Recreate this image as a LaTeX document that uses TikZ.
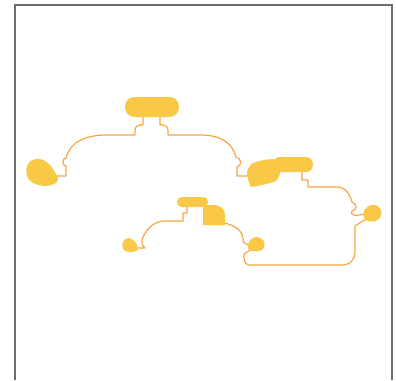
\documentclass[tikz,border=0pt]{standalone}
\definecolor{blobfill}{HTML}{F9C846}
\definecolor{wire}{HTML}{F6A641}
\definecolor{framegray}{HTML}{6E6E6E}
\begin{document}
\begin{tikzpicture}[x=1pt,y=-1pt,
  wireline/.style={draw=wire,line width=1.2pt,line join=round},
  blob/.style={fill=blobfill,draw=none},
  framestyle/.style={draw=framegray,line width=1.1pt}]
\useasboundingbox (0,0) rectangle (396,380);
% frame
\draw[framestyle] (15,380) -- (15,5) -- (392,5) -- (392,380);

% ---------- shape 1 ----------
\draw[wireline] (56,176) -- (66,176) -- (66,166)
  .. controls (62,166) and (62,158) .. (66,158)
  .. controls (70,142) and (85,135) .. (107,135) -- (135,135) -- (135,131)
  .. controls (135,127) and (137,125) .. (140,125) -- (143,125) -- (143,112);
\draw[wireline] (160,112) -- (160,125) -- (163,125)
  .. controls (166,125) and (168,127) .. (168,131) -- (168,135) -- (200,135)
  .. controls (220,135) and (232,142) .. (236,157)
  .. controls (242,158) and (242,166) .. (237,167) -- (237,176) -- (250,176);
\fill[blob] (125,107) .. controls (125,101) and (129,97) .. (135,97) -- (169,97)
  .. controls (175,97) and (179,101) .. (179,107) .. controls (179,113) and (175,117) .. (169,117)
  -- (135,117) .. controls (129,117) and (125,113) .. (125,107) -- cycle;
\fill[blob] (58,178) .. controls (52,165) and (45,158) .. (36,159)
  .. controls (27,160) and (24,170) .. (28,178)
  .. controls (32,186) and (50,189) .. (57,182) -- cycle;

% ---------- shape 2 ----------
\draw[wireline] (302,168) -- (302,180) -- (308,180) -- (308,187) -- (337,187)
  .. controls (346,187) and (350,195) .. (352,202)
  .. controls (358,205) and (357,210) .. (352,211)
  .. controls (350,214) and (353,217) .. (364,214);
\draw[wireline] (366,219) -- (355,226) -- (355,251)
  .. controls (355,260) and (350,265) .. (341,265) -- (250,265)
  .. controls (246,265) and (244,262) .. (244,258) -- (244,254) -- (252,249);
\fill[blob] (273,164) .. controls (273,160) and (276,157) .. (280,157) -- (306,157)
  .. controls (310,157) and (313,160) .. (313,164.5) .. controls (313,169) and (310,172) .. (306,172)
  -- (280,172) .. controls (276,172) and (273,169) .. (273,164) -- cycle;
\fill[blob] (247,172) .. controls (249,165) and (252,163) .. (256,162)
  .. controls (263,160) and (270,158) .. (278,160)
  .. controls (282,166) and (281,176) .. (276,181)
  .. controls (268,184) and (258,186) .. (251,187)
  .. controls (249,183) and (247,177) .. (247,172) -- cycle;
\fill[blob] (365,220) .. controls (361,215) and (364,206) .. (372,205)
  .. controls (379,204) and (383,210) .. (381,216)
  .. controls (379,222) and (370,223) .. (365,220) -- cycle;

% ---------- shape 3 ----------
\draw[wireline] (136,248) -- (145,248)
  .. controls (142,246) and (141,242) .. (143,237)
  .. controls (148,227) and (155,221) .. (165,221) -- (183,221) -- (183,213) -- (187,213) -- (187,205);
\draw[wireline] (224,223) .. controls (234,225) and (242,230) .. (243,238)
  .. controls (243,241) and (242,243) .. (249,245);
\fill[blob] (177,202) .. controls (177,199) and (179,197) .. (182,197) -- (203,197)
  .. controls (206,197) and (208,199) .. (208,202) .. controls (208,205) and (206,207) .. (203,207)
  -- (182,207) .. controls (179,207) and (177,205) .. (177,202) -- cycle;
\fill[blob] (203,207) -- (203,205) -- (214,205) .. controls (220,205) and (225,209) .. (225,215)
  -- (225,225) -- (203,225) -- cycle;
\fill[blob] (138,248) .. controls (136,241) and (132,238) .. (128,238)
  .. controls (123,239) and (121,245) .. (123,249)
  .. controls (125,253) and (134,253) .. (138,250) -- cycle;
\fill[blob] (248,249) .. controls (247,242) and (251,237) .. (257,237)
  .. controls (263,237) and (266,243) .. (264,248)
  .. controls (262,252) and (253,253) .. (248,249) -- cycle;
\end{tikzpicture}
\end{document}
